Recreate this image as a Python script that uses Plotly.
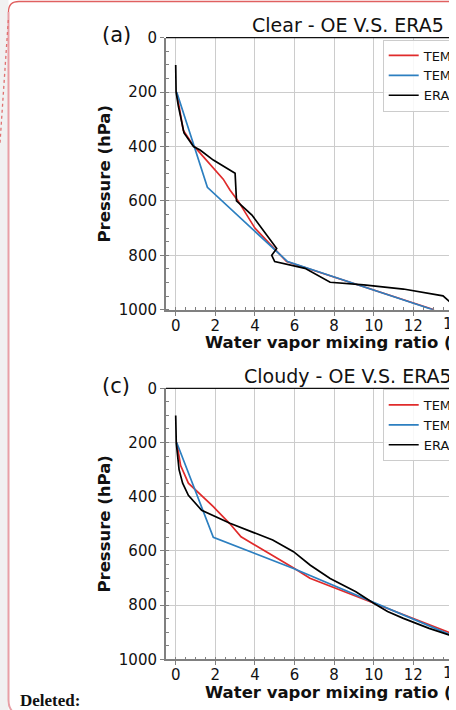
import plotly.graph_objects as go

# ---------------- data ----------------
p_era5_clear = [100, 200, 250, 350, 400, 413, 450, 498, 600, 652, 775, 800, 823, 848, 899, 909, 924, 949, 1000]
q_era5_clear = [0.0, 0.02, 0.13, 0.42, 0.9, 1.23, 1.9, 3.0, 3.07, 3.85, 5.1, 4.85, 5.0, 6.53, 7.8, 9.5, 11.5, 13.5, 14.3]
p_oe1_clear = [200, 290, 340, 395, 520, 560, 600, 700, 823, 1000]
q_oe1_clear = [0.05, 0.25, 0.38, 0.88, 2.4, 2.74, 3.15, 4.0, 5.6, 13.05]
p_oe2_clear = [200, 550, 823, 1000]
q_oe2_clear = [0.05, 1.6, 5.65, 13.0]

p_era5_cloudy = [100, 203, 300, 350, 395, 450, 498, 560, 603, 653, 702, 751, 793, 824, 849, 886, 910, 1000]
q_era5_cloudy = [0.0, 0.03, 0.17, 0.35, 0.64, 1.31, 2.74, 4.9, 5.95, 6.8, 7.8, 9.1, 10.0, 10.7, 11.5, 12.8, 13.8, 17.0]
p_oe1_cloudy = [200, 285, 350, 437, 500, 548, 665, 701, 1000]
q_oe1_cloudy = [0.05, 0.25, 0.64, 1.9, 2.74, 3.3, 6.0, 6.78, 17.3]
p_oe2_cloudy = [200, 550, 665, 790, 1000]
q_oe2_cloudy = [0.05, 1.9, 5.95, 10.0, 16.8]

series_names = ["TEMPEST-D OE retrieval", "TEMPEST-D OE prior", "ERA5"]
panel_titles = ["Clear - OE V.S. ERA5", "Cloudy - OE V.S. ERA5"]
panel_tags = ["(a)", "(c)"]
x_title = "Water vapor mixing ratio (g/kg)"
y_title = "Pressure (hPa)"
x_ticks = [0, 2, 4, 6, 8, 10, 12]
y_ticks = [0, 200, 400, 600, 800, 1000]

RED = "#e02b2b"
BLUE = "#2c7fc0"
BLACK = "#000000"
FONT = "DejaVu Sans"

# ---------------- geometry (pixels) ----------------
W, H = 449, 710
L = 166
PW = W - L
def X(px):
    return (px - L) / PW
def Y(py):
    return 1 - py / H

x0px, ppu = 175.7, 19.8
xr = [(L - x0px) / ppu, (L - x0px) / ppu + PW / ppu]

panels = [
    dict(top=37.7, bot=309.7),
    dict(top=388.3, bot=659.3),
]

fig = go.Figure()

data = [
    (q_oe1_clear, p_oe1_clear, q_oe2_clear, p_oe2_clear, q_era5_clear, p_era5_clear),
    (q_oe1_cloudy, p_oe1_cloudy, q_oe2_cloudy, p_oe2_cloudy, q_era5_cloudy, p_era5_cloudy),
]
legends = ["legend", "legend2"]

for i, (pan, d) in enumerate(zip(panels, data)):
    xa = "x" if i == 0 else "x2"
    ya = "y" if i == 0 else "y2"
    for (qq, pp, col, nm) in [(d[0], d[1], RED, series_names[0]),
                              (d[2], d[3], BLUE, series_names[1]),
                              (d[4], d[5], BLACK, series_names[2])]:
        fig.add_trace(go.Scatter(x=qq, y=pp, mode="lines", name=nm,
                                 line=dict(color=col, width=1.7),
                                 xaxis=xa, yaxis=ya, legend=legends[i]))

axis_common = dict(
    showline=True, linecolor="#808080", linewidth=2,
    ticks="outside", ticklen=4, tickwidth=1.2, tickcolor="#808080",
    showgrid=True, gridcolor="#cccccc", gridwidth=1.2,
    zeroline=False, tickangle=0, automargin=False,
    tickfont=dict(family=FONT, size=15, color="#111111"),
)

for i, pan in enumerate(panels):
    sx = "" if i == 0 else "2"
    dom = [Y(pan["bot"]), Y(pan["top"])]
    fig.layout["xaxis" + sx] = dict(
        axis_common, domain=[0, 1], range=xr, anchor="y" + sx,
        tickvals=x_ticks, ticklabelstandoff=-3,
        minor=dict(ticks="inside", dtick=0.5, ticklen=2.5, tickcolor="#808080", showgrid=False, tick0=0),
    )
    fig.layout["yaxis" + sx] = dict(
        axis_common, domain=dom, range=[1000, 0], anchor="x" + sx,
        tickvals=y_ticks,
        minor=dict(ticks="inside", dtick=50, ticklen=2.5, tickcolor="#808080", showgrid=False, tick0=0),
    )

annotations = []
shapes = []
for i, pan in enumerate(panels):
    sx = "" if i == 0 else "2"
    top, bot = pan["top"], pan["bot"]
    # top spine
    shapes.append(dict(type="line", xref="paper", yref="paper",
                       x0=X(L), x1=X(W), y0=Y(top), y1=Y(top),
                       line=dict(color="#111111", width=1.2), layer="above"))
    # title
    annotations.append(dict(text=panel_titles[i], xref="paper", yref="paper",
                            x=X(348.3), y=Y(top - 6.0 - 6.6), xanchor="center", yanchor="middle",
                            showarrow=False, font=dict(family=FONT, size=19, color="#111111")))
    annotations.append(dict(text=panel_tags[i], xref="paper", yref="paper",
                            x=X(116), y=Y(top + 4.6 - 7.3), xanchor="center", yanchor="middle",
                            showarrow=False, font=dict(family=FONT, size=21, color="#111111")))
    # y title
    annotations.append(dict(text="<b>" + y_title + "</b>", xref="paper", yref="paper",
                            x=X(104.8), y=Y((top + bot) / 2), xanchor="center", yanchor="middle",
                            textangle=-90, showarrow=False,
                            font=dict(family=FONT, size=16.5, color="#111111")))
    # x title
    annotations.append(dict(text="<b>" + x_title + "</b>", xref="paper", yref="paper",
                            x=X(203.3), y=Y(bot + 38.6 - 5.7), xanchor="left", yanchor="middle",
                            showarrow=False, font=dict(family=FONT, size=16.5, color="#111111")))
    # clipped 14 tick label
    annotations.append(dict(text="14", xref="paper", yref="paper",
                            x=X(x0px + 14 * ppu), y=Y(bot + 19.3 - 5.2), xanchor="center", yanchor="middle",
                            showarrow=False, font=dict(family=FONT, size=15, color="#111111")))

# page decorations
shapes.append(dict(type="rect", xref="paper", yref="paper", x0=X(0), x1=X(8.5), y0=Y(710), y1=Y(0),
                   fillcolor="#f1f1f1", line=dict(width=0), layer="below"))
shapes.append(dict(type="path", xref="paper", yref="paper",
                   path=f"M {X(8.5)},{Y(12)} Q {X(8.5)},{Y(1.5)} {X(19)},{Y(1.5)} L {X(W)},{Y(1.5)}",
                   line=dict(color="#e06060", width=1.3), layer="below"))
shapes.append(dict(type="path", xref="paper", yref="paper",
                   path=f"M {X(8.5)},{Y(12)} L {X(8.5)},{Y(700)} Q {X(8.5)},{Y(708)} {X(13)},{Y(712)}",
                   line=dict(color="#e8a0a6", width=2), layer="below"))
shapes.append(dict(type="line", xref="paper", yref="paper", x0=X(8.3), y0=Y(20), x1=X(0), y1=Y(143),
                   line=dict(color="#e07070", width=1.3, dash="dot"), layer="below"))
annotations.append(dict(text="<b>Deleted:</b>", xref="paper", yref="paper",
                        x=X(18), y=Y(707 - 0.4 * 17), xanchor="left", yanchor="middle", showarrow=False,
                        font=dict(family="Liberation Serif", size=17, color="#111111")))

leg_common = dict(
    xanchor="left", yanchor="top", bgcolor="rgba(255,255,255,0.85)",
    bordercolor="#cccccc", borderwidth=1,
    font=dict(family=FONT, size=13, color="#111111"),
    tracegroupgap=0, itemwidth=30,
)
fig.update_layout(
    legend=dict(leg_common, x=X(382.7), y=Y(39.5)),
    legend2=dict(leg_common, x=X(382.7), y=Y(389.0)),
    width=W, height=H,
    margin=dict(l=L, r=0, t=0, b=0, pad=0, autoexpand=False),
    paper_bgcolor="white", plot_bgcolor="white",
    showlegend=True,
    annotations=annotations, shapes=shapes,
)

fig.write_html("out.html")
